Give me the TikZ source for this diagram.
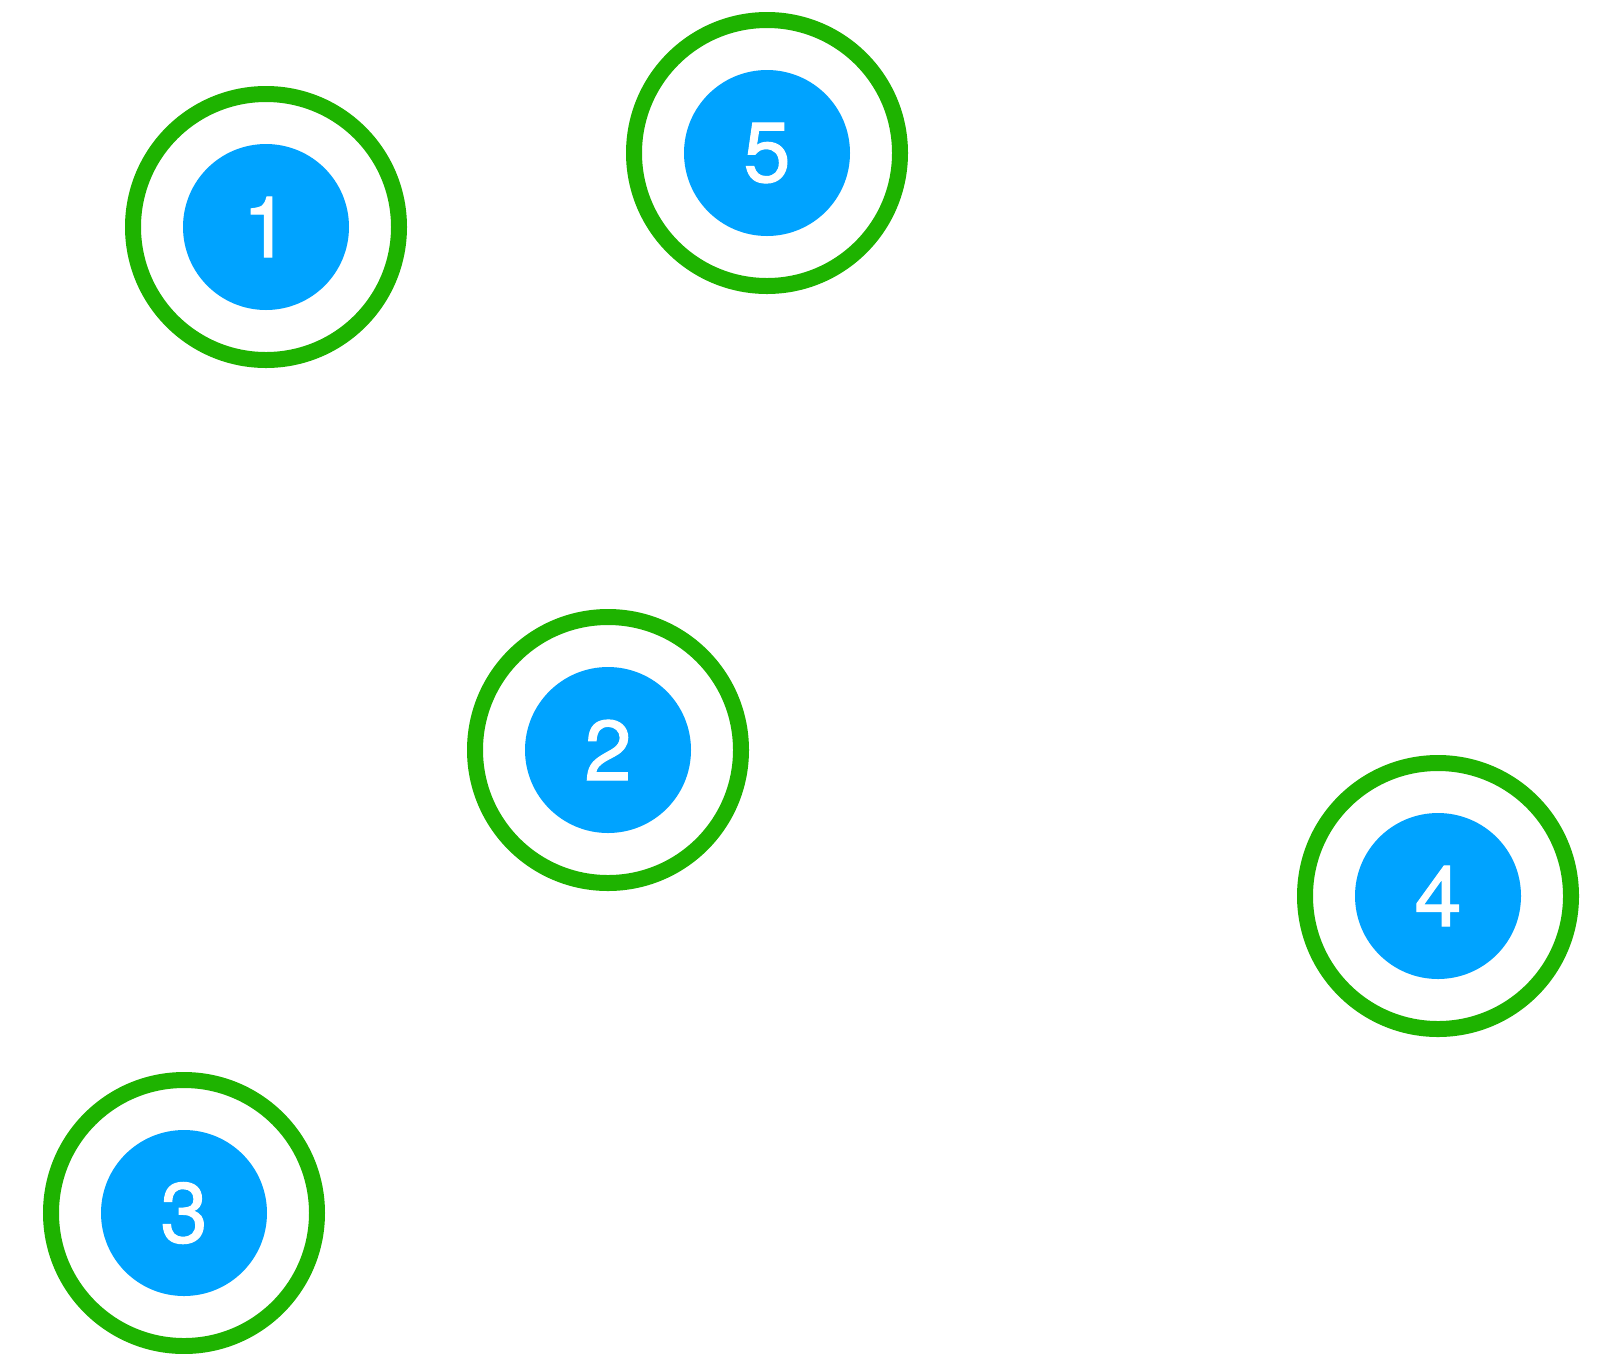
\documentclass[tikz,border=0pt]{standalone}
\usepackage{fontspec}
\setmainfont{TeX Gyre Heros}
\newfontfamily\digitfont{TeX Gyre Heros}[FakeBold=1.2]
\usepackage{xcolor}
\usetikzlibrary{positioning}
\definecolor{ringgreen}{RGB}{30, 179, 0}
\definecolor{dotblue}{RGB}{0, 163, 255}
\tikzset{
    ring/.style={circle, draw=ringgreen, line width=16pt, minimum size=266pt, inner sep=0pt},
    dot/.style={circle, fill=dotblue, minimum size=166pt, inner sep=0pt, text=white,
                font=\digitfont\fontsize{85}{85}\selectfont}
}

\begin{document}
\begin{tikzpicture}[x=1pt, y=-1pt]
    % Frame
    \useasboundingbox (0,0) rectangle (1608,1353);

    % Rings
    \node[ring] (r1) at (266,227) {};
    \node[ring] (r5) at (767,153) {};
    \node[ring] (r2) at (608,750) {};
    \node[ring] (r4) at (1438,896) {};
    \node[ring] (r3) at (184,1213) {};

    % Dots
    \node[dot] (n1) at (r1) {1};
    \node[dot] (n5) at (r5) {5};
    \node[dot] (n2) at (r2) {2};
    \node[dot] (n4) at (r4) {4};
    \node[dot] (n3) at (r3) {3};

\end{tikzpicture}
\end{document}
